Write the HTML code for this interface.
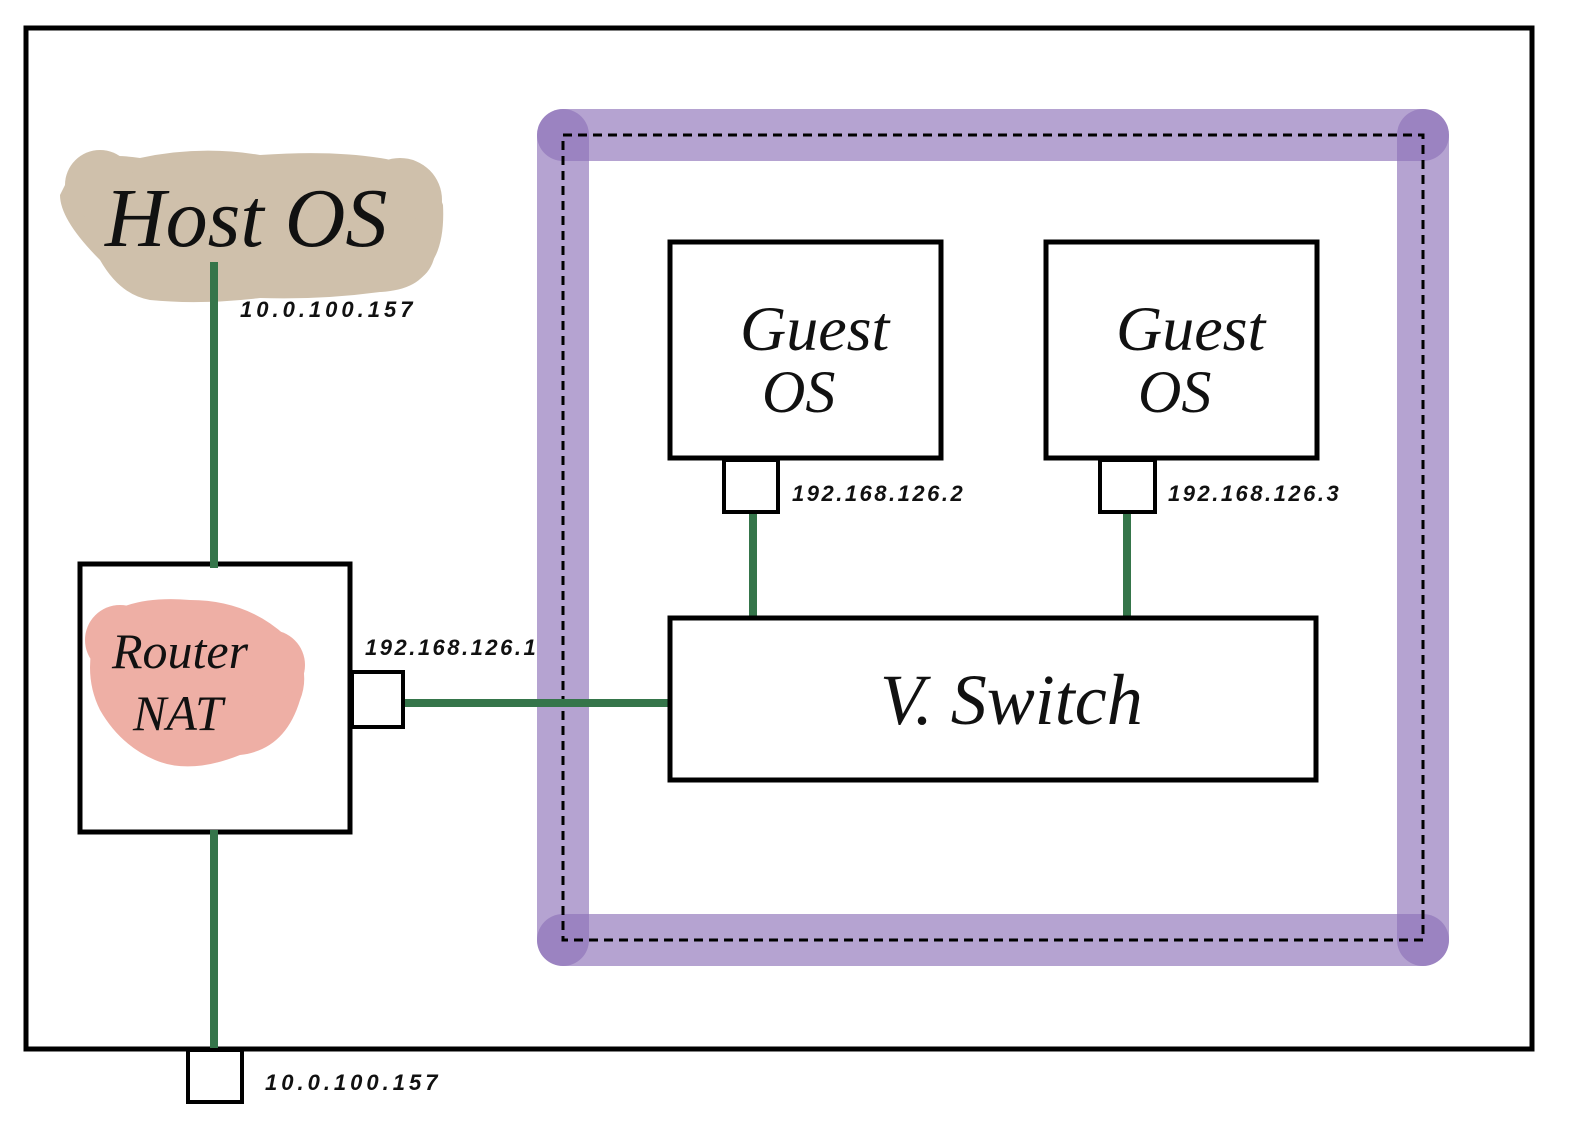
<!DOCTYPE html>
<html><head><meta charset="utf-8"><style>
html,body{margin:0;padding:0;background:#fff;}
svg{display:block;}
text{font-family:"Liberation Serif",serif;font-style:italic;fill:#111;}
.s{font-family:"Liberation Sans",sans-serif;font-style:italic;font-weight:bold;}
</style></head><body>
<svg width="1570" height="1125" viewBox="0 0 1570 1125" xmlns="http://www.w3.org/2000/svg">
<rect x="0" y="0" width="1570" height="1125" fill="#fff"/>
<rect x="26" y="28" width="1506" height="1021" fill="none" stroke="#000" stroke-width="5"/>
<g stroke="#8e72b8" stroke-opacity="0.65" stroke-width="52" stroke-linecap="round">
<line x1="563" y1="135" x2="1423" y2="135"/>
<line x1="1423" y1="135" x2="1423" y2="940"/>
<line x1="1423" y1="940" x2="563" y2="940"/>
<line x1="563" y1="940" x2="563" y2="135"/>
</g>
<rect x="563" y="135" width="860" height="805" fill="none" stroke="#000" stroke-width="3" stroke-dasharray="9,6"/>
<g fill="#cfc0ab">
<path d="M70 175 Q90 150 140 158 Q200 145 260 155 Q330 150 380 158 Q430 165 443 205 Q445 245 430 265 Q420 290 380 292 Q320 300 260 298 Q200 305 150 300 Q120 295 100 260 Q60 220 60 195 Z"/>
<circle cx="100" cy="185" r="35"/><circle cx="400" cy="200" r="42"/><circle cx="400" cy="250" r="35"/>
</g>
<text x="105" y="246" font-size="84">Host OS</text>
<rect x="80" y="564" width="270" height="268" fill="#fff" stroke="#000" stroke-width="5"/>
<g fill="#eeafa5">
<path d="M100 620 Q130 595 190 600 Q250 600 290 640 Q312 670 300 700 Q285 750 240 755 Q190 775 155 760 Q120 745 100 710 Q80 670 100 620 Z"/>
<circle cx="120" cy="640" r="35"/><circle cx="270" cy="665" r="35"/>
</g>
<text x="112" y="668" font-size="50">Router</text>
<text x="133" y="730" font-size="50">NAT</text>
<g stroke="#35754a" stroke-width="8">
<line x1="214" y1="262" x2="214" y2="568"/>
<line x1="214" y1="830" x2="214" y2="1052"/>
<line x1="402" y1="703" x2="674" y2="703"/>
<line x1="753" y1="510" x2="753" y2="622"/>
<line x1="1127" y1="510" x2="1127" y2="622"/>
</g>
<g fill="none" stroke="#000" stroke-width="4">
<rect x="188" y="1050" width="54" height="52"/>
<rect x="352" y="672" width="51" height="55"/>
<rect x="724" y="460" width="54" height="52"/>
<rect x="1100" y="460" width="55" height="52"/>
</g>
<g fill="#fff" stroke="#000" stroke-width="5">
<rect x="670" y="242" width="271" height="216"/>
<rect x="1046" y="242" width="271" height="216"/>
<rect x="670" y="618" width="646" height="162"/>
</g>
<text x="740" y="350" font-size="64">Guest</text>
<text x="762" y="412" font-size="60">OS</text>
<text x="1116" y="350" font-size="64">Guest</text>
<text x="1138" y="412" font-size="60">OS</text>
<text x="880" y="724" font-size="72">V. Switch</text>
<text class="s" x="240" y="317" font-size="22" letter-spacing="4">10.0.100.157</text>
<text class="s" x="265" y="1090" font-size="22" letter-spacing="4">10.0.100.157</text>
<text class="s" x="365" y="655" font-size="22" letter-spacing="2.5">192.168.126.1</text>
<text class="s" x="792" y="501" font-size="22" letter-spacing="2.5">192.168.126.2</text>
<text class="s" x="1168" y="501" font-size="22" letter-spacing="2.5">192.168.126.3</text>
</svg>
</body></html>
